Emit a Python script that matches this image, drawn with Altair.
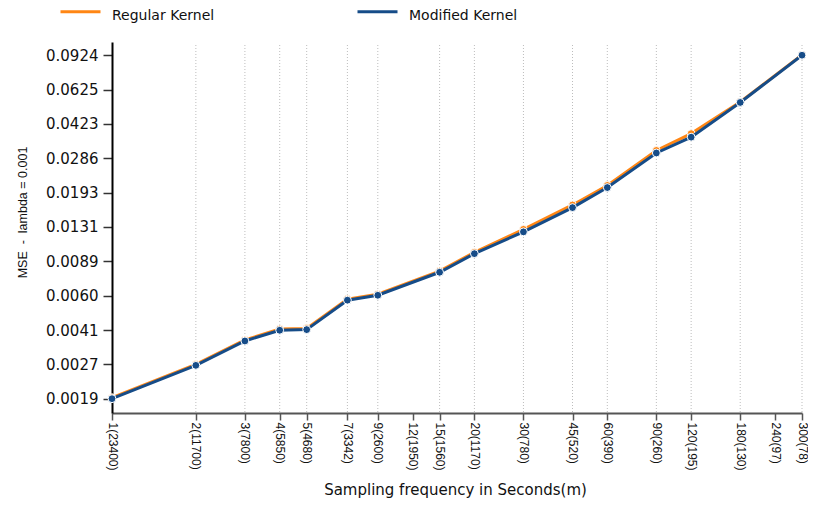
import altair as alt
import pandas as pd

# ---- data ----
freq = [1, 2, 3, 4, 5, 7, 9, 15, 20, 30, 45, 60, 90, 120, 180, 300]
regular = [0.00192, 0.00280, 0.00369, 0.00418, 0.00420, 0.00585, 0.00620, 0.00805,
           0.00995, 0.0129, 0.0170, 0.0212, 0.0315, 0.0381, 0.0545, 0.0928]
modified = [0.00190, 0.00277, 0.00365, 0.00412, 0.00415, 0.00579, 0.00612, 0.00794,
            0.00980, 0.01254, 0.0165, 0.0207, 0.0306, 0.0366, 0.0542, 0.0925]
series_names = ["Regular Kernel", "Modified Kernel"]
series_colors = ["#ff8614", "#164c88"]

x_ticks = [1, 2, 3, 4, 5, 7, 9, 12, 15, 20, 30, 45, 60, 90, 120, 180, 240, 300]
x_tick_labels = ["1(23400)", "2(11700)", "3(7800)", "4(5850)", "5(4680)", "7(3342)",
                 "9(2600)", "12(1950)", "15(1560)", "20(1170)", "30(780)", "45(520)",
                 "60(390)", "90(260)", "120(195)", "180(130)", "240(97)", "300(78)"]
y_tick_labels = ["0.0019", "0.0027", "0.0041", "0.0060", "0.0089", "0.0131",
                 "0.0193", "0.0286", "0.0423", "0.0625", "0.0924"]

# y ticks are evenly spaced on the log axis between first and last label
lo = float(y_tick_labels[0])
hi = float(y_tick_labels[-1])
n = len(y_tick_labels) - 1
ratio = (hi / lo) ** (1.0 / n)
y_ticks = [lo * ratio ** i for i in range(n)] + [hi]

x_domain = [1, 300]
y_domain = [0.001616, 0.1074]

rows = []
for name, vals in zip(series_names, [regular, modified]):
    for f, v in zip(freq, vals):
        rows.append({"freq": f, "mse": v, "series": name})
df = pd.DataFrame(rows)
grid_df = pd.DataFrame({"freq": freq[1:]})

x_label_expr = ""
for t, s in zip(x_ticks, x_tick_labels):
    x_label_expr += "datum.value == %s ? '%s' : " % (t, s)
x_label_expr += "''"

y_labels_js = "[" + ",".join("'%s'" % s for s in y_tick_labels) + "]"
y_label_expr = y_labels_js + "[round(log(datum.value / %r) / log(%r))]" % (lo, ratio)

PLOT_W = 690
PLOT_H = 371

x_axis = alt.Axis(
    values=x_ticks,
    labelExpr=x_label_expr,
    labelAngle=90, labelFont="Liberation Sans", labelFontSize=12, labelColor="#111",
    labelPadding=2, tickSize=7, tickColor="#555", tickWidth=1.5,
    domainColor="#555", domainWidth=2, grid=False, labelOverlap=False,
    title="Sampling frequency in Seconds(m)", titleFont="DejaVu Sans",
    titleFontSize=15, titleFontWeight="normal", titleColor="#111",
    titleBaseline="alphabetic", titleY=81, titleX=343,
)
y_axis = alt.Axis(
    values=y_ticks,
    labelExpr=y_label_expr,
    labelFont="DejaVu Sans", labelFontSize=15, labelColor="#111", labelPadding=5,
    tickSize=9, tickColor="#333", tickWidth=1.5, domainColor="#000", domainWidth=2,
    grid=False, labelOverlap=False,
    title="MSE \u00a0-\u00a0 lambda = 0.001", titleFont="Liberation Sans",
    titleFontSize=12.5, titleFontWeight="normal", titleColor="#111",
    titleX=-90, titleY=170, titleBaseline="middle",
)

x_enc = alt.X("freq:Q", scale=alt.Scale(type="log", domain=x_domain, nice=False), axis=x_axis)
y_enc = alt.Y("mse:Q", scale=alt.Scale(type="log", domain=y_domain, nice=False), axis=y_axis)

color_enc = alt.Color(
    "series:N",
    scale=alt.Scale(domain=series_names, range=series_colors),
    legend=alt.Legend(
        orient="none", legendX=-53, legendY=-48, direction="horizontal", title=None,
        symbolType="M-1,-0.2H1", symbolSize=1600, symbolStrokeWidth=3,
        labelFont="DejaVu Sans", labelFontSize=14, labelColor="#111",
        labelOffset=10, columnPadding=136, padding=0,
    ),
)

grid = alt.Chart(grid_df).mark_rule(color="#bdbdbd", strokeDash=[1, 2], strokeWidth=1).encode(
    x=x_enc, y=alt.value(3), y2=alt.value(PLOT_H)
)

layers = [grid]
for name, col in zip(series_names, series_colors):
    sub = alt.Chart(df).transform_filter(alt.datum.series == name)
    layers.append(sub.mark_line(strokeWidth=3).encode(x=x_enc, y=y_enc, color=color_enc))
    layers.append(
        sub.mark_circle(size=62, opacity=1, stroke="white", strokeWidth=1).encode(
            x=x_enc, y=y_enc, color=alt.value(col)
        )
    )

chart = (
    alt.layer(*layers)
    .properties(
        width=PLOT_W, height=PLOT_H,
        autosize=alt.AutoSizeParams(type="none"),
        padding={"left": 104, "top": 34, "right": 6, "bottom": 85},
        background="white",
    )
    .configure_view(stroke=None)
)

chart.save("out.html", embed_options={"renderer": "svg", "actions": False})
